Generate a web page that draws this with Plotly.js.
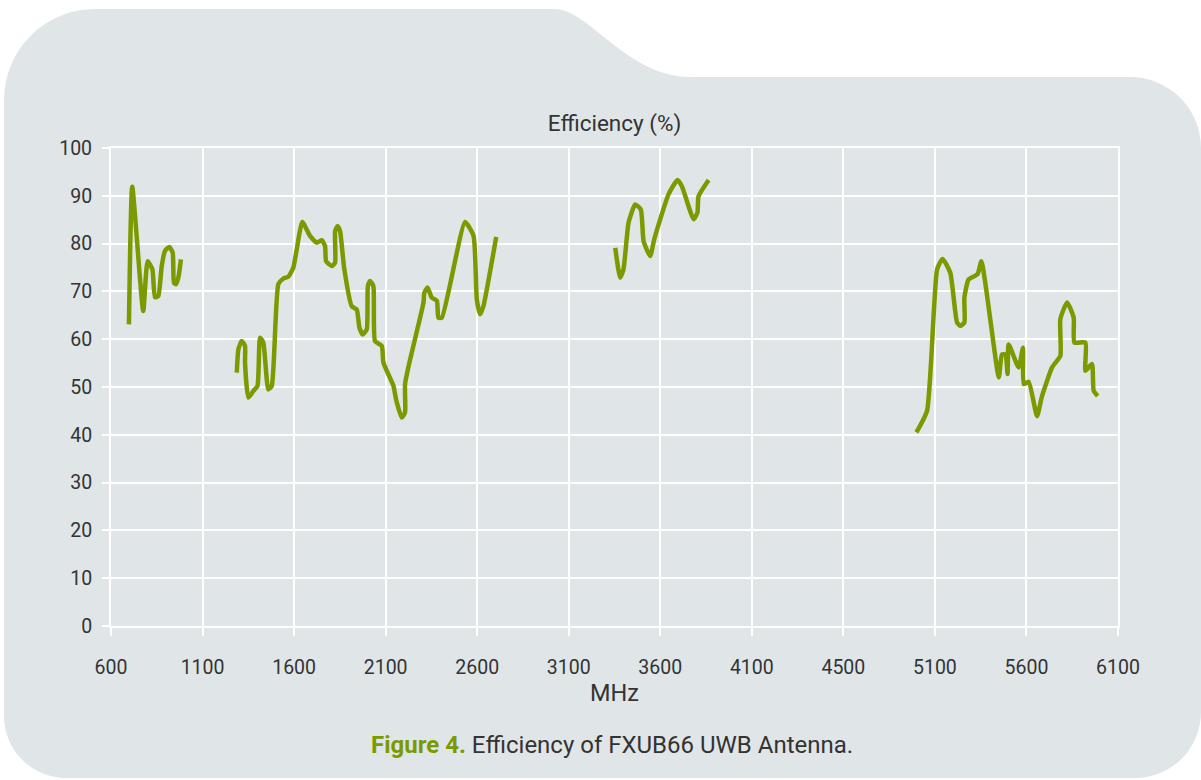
<!DOCTYPE html>
<html>
<head>
<meta charset="utf-8">
<script src="https://cdn.plot.ly/plotly-3.0.1.min.js"></script>
<style>
  html, body { margin:0; padding:0; background:#ffffff; }
  #wrap { position:relative; width:1201px; height:780px; }
  #bg { position:absolute; left:0; top:0; }
  #chart { position:absolute; left:0; top:0; width:1201px; height:780px; }
</style>
</head>
<body>
<div id="wrap">
  <svg id="bg" width="1201" height="780">
    <path d="M 4 100 A 91 91 0 0 1 95 9 L 555 9 C 588 9, 628 77, 690 77 L 1130 77 A 71 71 0 0 1 1201 148 L 1201 712 A 66 66 0 0 1 1135 778 L 66 778 A 62 62 0 0 1 4 716 Z" fill="#e0e5e8"/>
  </svg>
  <div id="chart"></div>
</div>
<script>
// Frequency (MHz) and efficiency (%) — null separates the measured bands
const freqMHz = [
  698, 716, 776, 800, 826, 840, 858, 877, 895, 919, 937, 944, 955, 968, 982,
  null,
  1287, 1296, 1314, 1332, 1332, 1350, 1378, 1400, 1414, 1432, 1459, 1478, 1514, 1542, 1569, 1596,
  1645, 1687, 1724, 1751, 1769, 1775, 1806, 1824, 1824, 1837, 1851, 1873, 1915, 1942, 1957, 1975,
  1997, 2003, 2015, 2033, 2042, 2079, 2088, 2143, 2157, 2188, 2206, 2206, 2234, 2307, 2311, 2329,
  2352, 2380, 2388, 2407, 2534, 2580, 2598, 2616, 2634, 2704,
  null,
  3354, 3381, 3399, 3427, 3463, 3494, 3509, 3545, 3567, 3645, 3694, 3718, 3782, 3803, 3809, 3864,
  null,
  4999, 5057, 5112, 5142, 5184, 5221, 5240, 5261, 5261, 5284, 5333, 5354, 5449, 5466, 5485, 5497,
  5503, 5557, 5581, 5585, 5612, 5658, 5685, 5740, 5785, 5785, 5822, 5858, 5862, 5922, 5922, 5958,
  5967, 5989
];
const efficiencyPct = [
  63.1, 91.9, 65.9, 76.3, 74.6, 68.8, 69.0, 75.3, 78.5, 79.3, 78.1, 71.8, 71.5, 72.9, 76.7,
  null,
  53.0, 57.9, 59.6, 58.6, 55.1, 47.8, 49.2, 50.2, 60.3, 59.3, 49.5, 50.2, 71.5, 72.7, 73.1, 75.0,
  84.5, 81.6, 80.2, 80.7, 79.5, 76.3, 75.3, 76.0, 82.6, 83.7, 82.6, 75.0, 66.9, 66.2, 62.4, 61.0,
  62.1, 71.1, 72.2, 71.1, 59.6, 58.6, 55.1, 50.2, 47.4, 43.6, 44.7, 50.6, 55.8, 67.7, 69.7, 70.8,
  68.7, 68.0, 64.5, 64.5, 84.5, 81.6, 68.3, 65.2, 66.9, 81.4,
  null,
  79.1, 72.9, 74.6, 84.4, 88.2, 87.1, 80.5, 77.4, 80.9, 90.3, 93.3, 92.0, 85.1, 86.5, 89.9, 93.3,
  null,
  40.5, 45.0, 74.6, 76.8, 73.9, 63.5, 62.8, 63.5, 68.7, 72.5, 73.6, 76.3, 52.0, 56.8, 56.8, 52.7,
  58.9, 54.1, 58.2, 50.6, 51.1, 43.9, 48.1, 54.1, 56.5, 64.2, 67.7, 64.5, 59.3, 59.3, 53.4, 54.8,
  49.2, 48.1
];
const xTickVals = [600, 1100, 1600, 2100, 2600, 3100, 3600, 4100, 4600, 5100, 5600, 6100];
const xTickText = ['600', '1100', '1600', '2100', '2600', '3100', '3600', '4100', '4500', '5100', '5600', '6100'];
const yTickVals = [0, 10, 20, 30, 40, 50, 60, 70, 80, 90, 100];

const tickFont = {family: 'Roboto, sans-serif', size: 19.5, color: '#333333'};

const trace = {
  x: freqMHz,
  y: efficiencyPct,
  type: 'scatter',
  mode: 'lines',
  connectgaps: false,
  line: {color: '#7b9a00', width: 4.5, shape: 'spline', smoothing: 0.5},
  hoverinfo: 'skip'
};

const layout = {
  width: 1201,
  height: 780,
  margin: {l: 111, r: 83, t: 148, b: 154},
  paper_bgcolor: 'rgba(0,0,0,0)',
  plot_bgcolor: 'rgba(0,0,0,0)',
  showlegend: false,
  title: {
    text: 'Efficiency (%)',
    font: {family: 'Roboto, sans-serif', size: 22.5, color: '#333333'},
    x: 0.5, xref: 'paper', xanchor: 'center',
    y: 1 - 123 / 780, yref: 'container', yanchor: 'middle'
  },
  xaxis: {
    range: [600, 6100],
    tickmode: 'array',
    tickvals: xTickVals,
    ticktext: xTickText,
    tickfont: tickFont,
    showgrid: true,
    gridcolor: '#ffffff',
    gridwidth: 2,
    ticks: 'outside',
    ticklen: 8,
    tickwidth: 2,
    tickcolor: '#ffffff',
    showline: true,
    linecolor: '#ffffff',
    linewidth: 2,
    mirror: true,
    zeroline: false,
    ticklabelstandoff: 15,
    title: {text: 'MHz', font: {family: 'Roboto, sans-serif', size: 23.5, color: '#333333'}, standoff: 1}
  },
  yaxis: {
    range: [0, 100],
    tickmode: 'array',
    tickvals: yTickVals,
    tickfont: tickFont,
    showgrid: true,
    gridcolor: '#ffffff',
    gridwidth: 2,
    ticks: 'outside',
    ticklen: 7,
    tickwidth: 2,
    tickcolor: '#ffffff',
    showline: true,
    linecolor: '#ffffff',
    linewidth: 2,
    mirror: true,
    zeroline: false,
    ticklabelstandoff: 6
  },
  annotations: [{
    text: '<span style="color:#7b9a00"><b>Figure 4.</b></span> Efficiency of FXUB66 UWB Antenna.',
    xref: 'paper', yref: 'paper',
    x: (612 - 111) / (1118 - 111), y: (626 - 745) / 478,
    xanchor: 'center', yanchor: 'middle',
    showarrow: false,
    font: {family: 'Roboto, sans-serif', size: 24, color: '#333333'}
  }]
};

Plotly.newPlot('chart', [trace], layout, {displayModeBar: false, staticPlot: true});
</script>
</body>
</html>
